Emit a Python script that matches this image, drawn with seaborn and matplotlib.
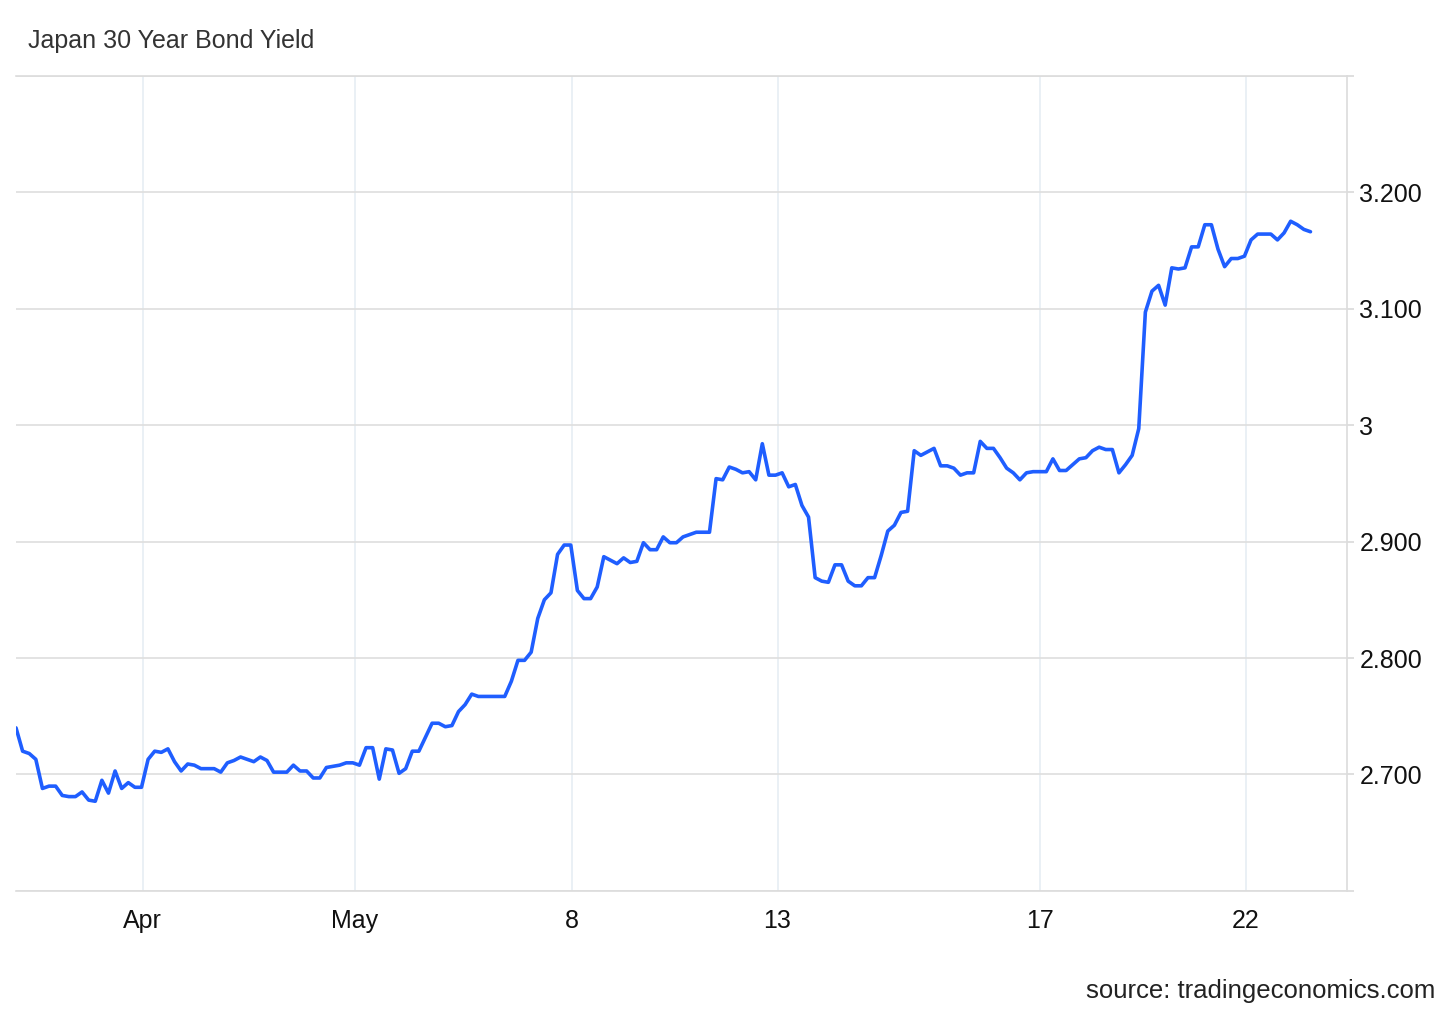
import matplotlib
matplotlib.use("Agg")
import matplotlib.pyplot as plt
import seaborn as sns
import pandas as pd

# yield readings, evenly spaced observations
yields = [
    2.740, 2.720, 2.718, 2.713, 2.688, 2.690, 2.690, 2.682, 2.681, 2.681,
    2.685, 2.678, 2.677, 2.695, 2.684, 2.703, 2.688, 2.693, 2.689, 2.689,
    2.713, 2.720, 2.719, 2.722, 2.711, 2.703, 2.709, 2.708, 2.705, 2.705,
    2.705, 2.702, 2.710, 2.712, 2.715, 2.713, 2.711, 2.715, 2.712, 2.702,
    2.702, 2.702, 2.708, 2.703, 2.703, 2.697, 2.697, 2.706, 2.707, 2.708,
    2.710, 2.710, 2.708, 2.723, 2.723, 2.696, 2.722, 2.721, 2.701, 2.705,
    2.720, 2.720, 2.732, 2.744, 2.744, 2.741, 2.742, 2.754, 2.760, 2.769,
    2.767, 2.767, 2.767, 2.767, 2.767, 2.780, 2.798, 2.798, 2.805, 2.834,
    2.850, 2.856, 2.889, 2.897, 2.897, 2.858, 2.851, 2.851, 2.861, 2.887,
    2.884, 2.881, 2.886, 2.882, 2.883, 2.899, 2.893, 2.893, 2.904, 2.899,
    2.899, 2.904, 2.906, 2.908, 2.908, 2.908, 2.954, 2.953, 2.964, 2.962,
    2.959, 2.960, 2.953, 2.984, 2.957, 2.957, 2.959, 2.947, 2.949, 2.931,
    2.921, 2.869, 2.866, 2.865, 2.880, 2.880, 2.866, 2.862, 2.862, 2.869,
    2.869, 2.888, 2.909, 2.914, 2.925, 2.926, 2.978, 2.974, 2.977, 2.980,
    2.965, 2.965, 2.963, 2.957, 2.959, 2.959, 2.986, 2.980, 2.980, 2.972,
    2.963, 2.959, 2.953, 2.959, 2.960, 2.960, 2.960, 2.971, 2.961, 2.961,
    2.966, 2.971, 2.972, 2.978, 2.981, 2.979, 2.979, 2.959, 2.966, 2.974,
    2.997, 3.097, 3.115, 3.120, 3.103, 3.135, 3.134, 3.135, 3.153, 3.153,
    3.172, 3.172, 3.151, 3.136, 3.143, 3.143, 3.145, 3.159, 3.164, 3.164,
    3.164, 3.159, 3.165, 3.175, 3.172, 3.168, 3.166,
]

x_tick_pos = [19.2, 51.3, 84.2, 115.3, 155.1, 186.2]
x_tick_labels = ["Apr", "May", "8", "13", "17", "22"]

y_ticks = [2.6, 2.7, 2.8, 2.9, 3.0, 3.1, 3.2, 3.3]
y_tick_labels = ["", "2.700", "2.800", "2.900", "3", "3.100", "3.200", ""]

df = pd.DataFrame({"step": range(len(yields)), "yield": yields})

sns.set_style("white")
plt.rcParams["font.family"] = ["Liberation Sans", "DejaVu Sans"]

fig = plt.figure(figsize=(14.56, 10.09), dpi=100)
ax = fig.add_axes([0.011, 0.117, 0.914, 0.808])

sns.lineplot(data=df, x="step", y="yield", ax=ax, color="#1f5eff", linewidth=2.6)

ax.set_xlim(0, 201.5)
ax.set_ylim(2.6, 3.3)

ax.set_xticks(x_tick_pos)
ax.set_xticklabels(x_tick_labels)
ax.set_yticks(y_ticks)
ax.set_yticklabels(y_tick_labels)

ax.yaxis.tick_right()
ax.tick_params(axis="y", length=5, color="#d9d9d9", width=1.2, pad=4,
               labelsize=18, labelcolor="#111111")
ax.tick_params(axis="x", length=0, pad=13, labelsize=18, labelcolor="#111111")

ax.grid(axis="y", color="#dedede", linewidth=1.2)
ax.grid(axis="x", color="#e6edf3", linewidth=1.2)
ax.set_axisbelow(True)

for side in ["top", "bottom", "right"]:
    ax.spines[side].set_color("#dcdcdc")
    ax.spines[side].set_linewidth(1.2)
ax.spines["left"].set_visible(False)

ax.set_xlabel("")
ax.set_ylabel("")

fig.text(0.019, 0.959, "Japan 30 Year Bond Yield", fontsize=18, color="#333333",
         ha="left", va="center")
fig.text(0.986, 0.018, "source: tradingeconomics.com", fontsize=18.5,
         color="#222222", ha="right", va="center")

fig.savefig("out.png", dpi=100)
